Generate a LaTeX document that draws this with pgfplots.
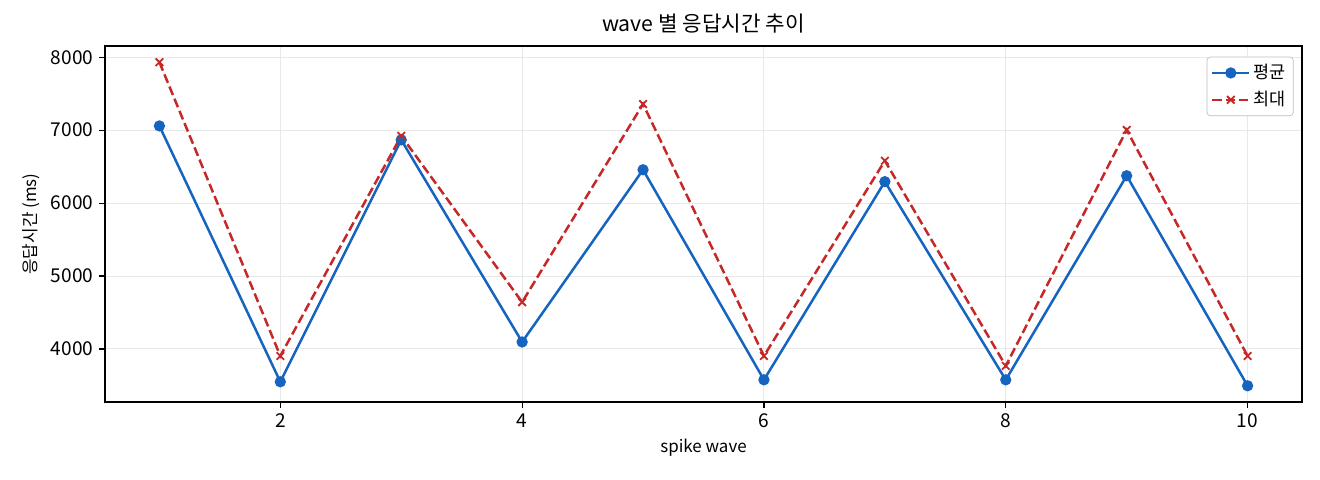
\documentclass[border=0pt]{standalone}
\usepackage{fontspec}
\setmainfont{Noto Sans CJK KR}
\usepackage{pgfplots}
\pgfplotsset{compat=1.18}

\definecolor{avgblue}{HTML}{1565C0}
\definecolor{maxred}{HTML}{C62828}
\definecolor{gridgray}{HTML}{E8E8E8}

\begin{document}
\begin{tikzpicture}
\path[use as bounding box] (-63bp,-46.8bp) rectangle (729bp,241.2bp);
\begin{axis}[
    scale only axis,
    width=718.2bp, height=213.6bp,
    xmin=0.55, xmax=10.45,
    ymin=3273, ymax=8154,
    xtick={2,4,6,8,10},
    ytick={4000,5000,6000,7000,8000},
    scaled y ticks=false,
    /pgf/number format/.cd, set thousands separator={}, assume math mode=true,
    /pgfplots/.cd,
    tick align=outside,
    tick pos=left,
    major tick length=3.5bp,
    tick style={black, line width=0.7bp},
    axis line style={black, line width=0.7bp},
    grid=major,
    grid style={gridgray, line width=0.6bp},
    ticklabel style={font=\fontsize{11.5}{13}\selectfont},
    title={wave 별 응답시간 추이},
    title style={font=\fontsize{12.8}{15}\selectfont, yshift=-2bp},
    xlabel={spike wave},
    ylabel={응답시간 (ms)},
    label style={font=\fontsize{10.2}{12}\selectfont},
    legend pos=north east,
    legend cell align=left,
    legend style={font=\fontsize{10.5}{12}\selectfont, draw=gridgray!60!gray,
      rounded corners=2bp, inner sep=2.5bp, row sep=2bp, at={(0.993,0.97)}},
    legend image code/.code={
      \draw[mark repeat=2,mark phase=2] plot coordinates {(0bp,0bp) (11bp,0bp) (22bp,0bp)};},
]
\addplot[avgblue, line width=1.5bp, mark=*, mark size=2.6bp, mark options={solid, fill=avgblue}]
coordinates {
(1,7058) (2,3550) (3,6867) (4,4096) (5,6457)
(6,3577) (7,6294) (8,3577) (9,6375) (10,3495)
};
\addlegendentry{평균}
\addplot[maxred, line width=1.5bp, dashed, dash pattern=on 5.5bp off 2.4bp, mark=x, mark size=3.2bp, mark options={solid, line width=1.1bp}]
coordinates {
(1,7932) (2,3904) (3,6922) (4,4642) (5,7358)
(6,3904) (7,6580) (8,3768) (9,7003) (10,3904)
};
\addlegendentry{최대}
\end{axis}
\end{tikzpicture}
\end{document}
